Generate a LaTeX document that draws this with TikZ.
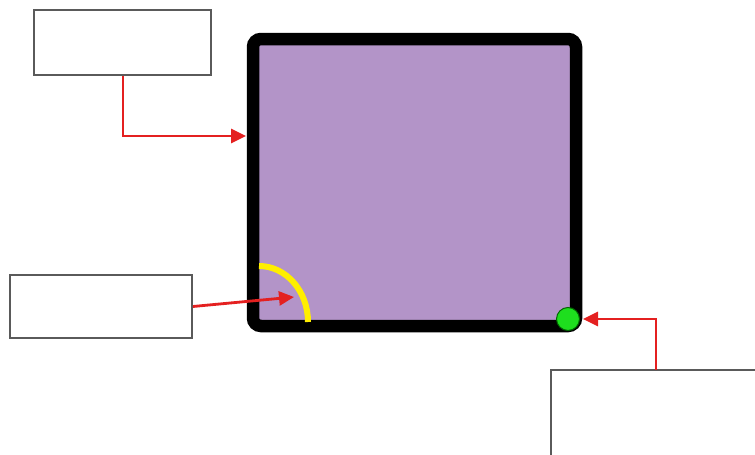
\documentclass[tikz,border=0pt]{standalone}
\usetikzlibrary{arrows.meta}
\definecolor{sqfill}{RGB}{179,148,200}
\definecolor{arrred}{RGB}{228,32,32}
\definecolor{dotgreen}{RGB}{30,222,30}
\definecolor{boxgray}{RGB}{90,90,90}
\definecolor{arcyellow}{RGB}{255,238,0}
\tikzset{
  labelbox/.style={draw=boxgray, line width=1.8pt, fill=white, inner sep=0pt},
  redarrow/.style={draw=arrred, line width=2.8pt, -{Triangle[length=15pt,width=14pt]}},
}
\begin{document}
\begin{tikzpicture}[x=1pt,y=-1pt]
\useasboundingbox (0,0) rectangle (755,455);
\begin{scope}
\clip (0,0) rectangle (755,455);
% main square
\node[draw=black, fill=sqfill, line width=12.5pt, rounded corners=8pt, inner sep=0pt,
      minimum width=323pt, minimum height=287pt] (sq) at (414.5,182.5) {};
% yellow arc
\draw[arcyellow, line width=6pt] (259,266) .. controls (286,266) and (308,291) .. (308,322);
% green dot
\node[circle, draw=black!60!green, fill=dotgreen, line width=1pt, inner sep=0pt, minimum size=23pt] (dot) at (568,319) {};
% label boxes
\node[labelbox, minimum width=177pt, minimum height=65pt] (b1) at (122.5,42.5) {};
\node[labelbox, minimum width=182pt, minimum height=63pt] (b2) at (101,306.5) {};
\node[labelbox, minimum width=260pt, minimum height=140pt] (b3) at (681,440) {};
\coordinate (t1) at (246,136);
\coordinate (t2) at (294,297);
\coordinate (s3) at (656,370);
% connectors
\draw[redarrow] (b1.south -| 123,0) |- (t1);
\draw[redarrow] (b2.east) -- (t2);
\draw[redarrow] (s3) |- ([xshift=3pt]dot.east);
\end{scope}
\end{tikzpicture}
\end{document}
